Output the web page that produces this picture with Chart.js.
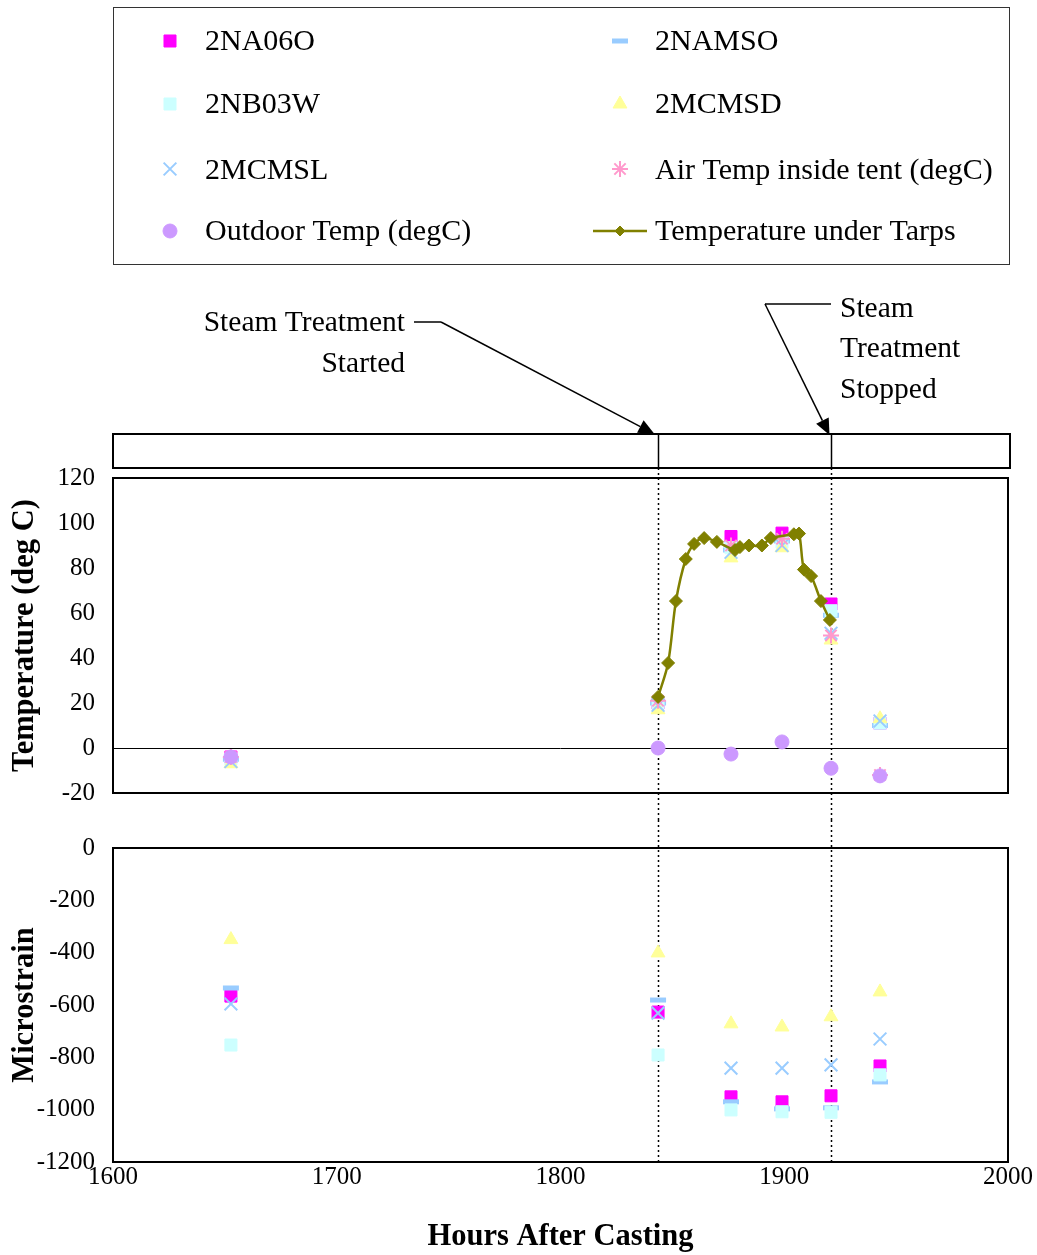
<!DOCTYPE html>
<html lang="en">
  <head>
    <meta charset="UTF-8" />
    <title>Steam treatment - temperature and microstrain</title>
    <script src="https://cdn.jsdelivr.net/npm/chart.js"></script>
    <style>
      body { margin: 0; background: #fff; }
      #wrap { position: relative; width: 1037px; height: 1255px; }
      canvas { position: absolute; left: 0; }
      #tempChart { top: 0; }
      #strainChart { top: 820px; }
    </style>
  </head>
  <body>
    <div id="wrap">
      <canvas id="tempChart" width="1037" height="820"></canvas>
      <canvas id="strainChart" width="1037" height="435"></canvas>
    </div>

    <script>
      // readings (hours after casting)
      const hours = [1652.7, 1843.6, 1876.2, 1899.0, 1920.9, 1942.8];

      const seriesNames = [
        "2NA06O", "2NAMSO", "2NB03W", "2MCMSD", "2MCMSL",
        "Air Temp inside tent (degC)", "Outdoor Temp (degC)", "Temperature under Tarps"
      ];

      // temperatures (deg C)
      const temp2NA06O = [-4, 20, 94, 95.5, 64, 11];
      const temp2NAMSO = [-5, 20, 88, 92, 59, 10];
      const temp2NB03W = [-5, 20, 89, 91.5, 61, 11];
      const temp2MCMSD = [-7, 17, 84.5, 89, 48, 13];
      const temp2MCMSL = [-6, 19, 87, 90, 51, 12];
      const airTemp = [-4, 21, 90, 93, 50, -12];
      const outdoorTemp = [-4, 0, -2.7, 2.7, -9, -12.4];

      const tarpHours = [1843.6, 1848.1, 1851.6, 1856.0, 1859.7, 1864.2, 1869.9, 1878.0, 1880.2,
        1884.2, 1890.0, 1894.0, 1904.3, 1906.6, 1908.8, 1912.0, 1916.4, 1920.4];
      const tarpTemp = [22.7, 37.8, 65.3, 84.0, 90.7, 93.3, 91.6, 88.0, 89.3,
        90.0, 90.0, 93.3, 95.0, 95.3, 79.3, 76.4, 65.3, 56.9];

      // microstrain
      const strain2NA06O = [-566, -627, -951, -970, -947, -833];
      const strain2NAMSO = [-535, -581, -970, -997, -993, -894];
      const strain2NB03W = [-753, -791, -1001, -1008, -1010, -867];
      const strain2MCMSD = [-350, -401, -672, -684, -645, -550];
      const strain2MCMSL = [-596, -631, -841, -841, -829, -730];

      const steamStart = 1843.6;
      const steamStop = 1920.9;

      const xTicks = [1600, 1700, 1800, 1900, 2000];

      const serif = "'Liberation Serif', 'Times New Roman', serif";
      Chart.defaults.font.family = serif;
      Chart.defaults.color = "#000";

      const markers = [
        { style: "rect", color: "#FF00FF", radius: 8.5, bw: 1 },
        { style: "line", color: "#99CCFF", radius: 8, bw: 5 },
        { style: "rect", color: "#CCFFFF", radius: 8.5, bw: 1 },
        { style: "triangle", color: "#FFFF99", radius: 8, bw: 1 },
        { style: "crossRot", color: "#99CCFF", radius: 9, bw: 2 },
        { style: "star", color: "#FF99CC", radius: 8, bw: 2 },
        { style: "circle", color: "#CC99FF", radius: 7, bw: 1 },
        { style: "rectRot", color: "#808000", radius: 6.5, bw: 1 },
      ];

      function toPoints(xs, ys) {
        return ys.map((y, i) => ({ x: xs[i], y: y }));
      }

      function scatterSet(i, values) {
        const m = markers[i];
        return {
          label: seriesNames[i],
          data: toPoints(hours, values),
          showLine: false,
          pointStyle: m.style,
          pointRadius: m.radius,
          pointBackgroundColor: m.color,
          pointBorderColor: m.color,
          pointBorderWidth: m.bw,
          order: 20 - i,
        };
      }

      const plainNumber = (v) => String(v);

      function yScale(min, max, step, title) {
        return {
          min: min,
          max: max,
          ticks: { stepSize: step, padding: 2, font: { size: 25 }, color: "#000", callback: plainNumber },
          grid: {
            drawTicks: true,
            tickLength: 16,
            tickColor: "rgba(0,0,0,0)",
            color: (c) => (c.tick && c.tick.value === 0 ? "#000" : "rgba(0,0,0,0)"),
            lineWidth: 1,
          },
          border: { display: false },
          title: {
            display: true,
            text: title,
            font: { size: 30.5, weight: "bold", lineHeight: 1.2 },
            color: "#000",
            padding: { top: 7, bottom: 0 },
          },
          afterFit: (s) => { s.width = 113; },
        };
      }

      function drawMarker(ctx, m, x, y, r) {
        ctx.save();
        ctx.fillStyle = m.color;
        ctx.strokeStyle = m.color;
        ctx.lineWidth = m.bw;
        if (Chart.helpers && Chart.helpers.drawPoint) {
          Chart.helpers.drawPoint(ctx, { pointStyle: m.style, radius: r || m.radius, rotation: 0, borderWidth: m.bw }, x, y);
        } else {
          ctx.fillRect(x - 6, y - 6, 12, 12);
        }
        ctx.restore();
      }

      // plot frame + dotted steam lines
      const framePlugin = {
        id: "frame",
        beforeDatasetsDraw(chart, args, opts) {
          const { ctx, chartArea: a } = chart;
          const xs = chart.scales.x;
          ctx.save();
          ctx.strokeStyle = "#000";
          ctx.lineWidth = 1.5;
          ctx.setLineDash([2, 3]);
          [steamStart, steamStop].forEach((h) => {
            const px = Math.round(xs.getPixelForValue(h)) + 0.5;
            ctx.beginPath();
            ctx.moveTo(px, opts.lineTop);
            ctx.lineTo(px, opts.lineBottom === "area" ? a.bottom : chart.height);
            ctx.stroke();
          });
          ctx.setLineDash([]);
          ctx.lineWidth = 2;
          ctx.strokeRect(a.left, a.top, a.right - a.left, a.bottom - a.top);
          ctx.restore();
        },
      };

      function arrowTo(ctx, x1, y1, x2, y2) {
        const ang = Math.atan2(y2 - y1, x2 - x1);
        const len = 16, half = 7;
        const bx = x2 - Math.cos(ang) * len, by = y2 - Math.sin(ang) * len;
        ctx.beginPath();
        ctx.moveTo(x1, y1);
        ctx.lineTo(bx, by);
        ctx.stroke();
        ctx.beginPath();
        ctx.moveTo(x2, y2);
        ctx.lineTo(bx + Math.sin(ang) * half, by - Math.cos(ang) * half);
        ctx.lineTo(bx - Math.sin(ang) * half, by + Math.cos(ang) * half);
        ctx.closePath();
        ctx.fill();
      }

      // legend box, marker strip and steam annotations
      const extrasPlugin = {
        id: "extras",
        afterDraw(chart) {
          const { ctx, chartArea: a } = chart;
          const xs = chart.scales.x;
          const pStart = Math.round(xs.getPixelForValue(steamStart)) + 0.5;
          const pStop = Math.round(xs.getPixelForValue(steamStop)) + 0.5;
          ctx.save();

          // legend
          ctx.strokeStyle = "#333";
          ctx.lineWidth = 1;
          ctx.strokeRect(113.5, 7.5, 896, 257);
          const rowsBase = [50, 113, 179, 240];
          const rowsMid = [41, 104, 169, 231];
          ctx.font = "30px " + serif;
          ctx.fillStyle = "#000";
          ctx.textBaseline = "alphabetic";
          ctx.textAlign = "left";
          seriesNames.forEach((name, i) => {
            const col = i % 2, row = Math.floor(i / 2);
            const mx = col ? 620 : 170;
            const tx = col ? 655 : 205;
            const m = markers[i];
            if (m.style === "rectRot") {
              ctx.save();
              ctx.strokeStyle = m.color;
              ctx.lineWidth = 2.5;
              ctx.beginPath();
              ctx.moveTo(593, rowsMid[row]);
              ctx.lineTo(647, rowsMid[row]);
              ctx.stroke();
              ctx.restore();
              drawMarker(ctx, m, mx, rowsMid[row], 5);
            } else {
              drawMarker(ctx, m, mx, rowsMid[row]);
            }
            ctx.fillStyle = "#000";
            ctx.fillText(name, tx, rowsBase[row]);
          });

          // event strip
          ctx.strokeStyle = "#000";
          ctx.lineWidth = 2;
          ctx.strokeRect(a.left, 434, a.right - a.left + 2, 34);
          ctx.lineWidth = 1.5;
          [pStart, pStop].forEach((px) => {
            ctx.beginPath();
            ctx.moveTo(px, 434);
            ctx.lineTo(px, 468);
            ctx.stroke();
          });

          // annotations
          ctx.font = "29.5px " + serif;
          ctx.fillStyle = "#000";
          ctx.textAlign = "right";
          ctx.fillText("Steam Treatment", 405, 331);
          ctx.fillText("Started", 405, 372);
          ctx.textAlign = "left";
          ctx.fillText("Steam", 840, 317);
          ctx.fillText("Treatment", 840, 357);
          ctx.fillText("Stopped", 840, 398);

          ctx.lineWidth = 1.5;
          ctx.beginPath();
          ctx.moveTo(414, 322);
          ctx.lineTo(441, 322);
          ctx.stroke();
          arrowTo(ctx, 441, 322, pStart - 4, 434);

          ctx.beginPath();
          ctx.moveTo(831, 304);
          ctx.lineTo(765, 304);
          ctx.stroke();
          arrowTo(ctx, 765, 304, pStop - 2, 435);
          ctx.restore();
        },
      };

      const xBase = { type: "linear", min: 1600, max: 2000 };

      const tempSets = [
        temp2NA06O, temp2NAMSO, temp2NB03W, temp2MCMSD, temp2MCMSL, airTemp, outdoorTemp,
      ].map((vals, i) => scatterSet(i, vals));
      tempSets.push({
        label: seriesNames[7],
        data: toPoints(tarpHours, tarpTemp),
        showLine: true,
        tension: 0.3,
        borderColor: "#808000",
        borderWidth: 2.5,
        pointStyle: "rectRot",
        pointRadius: 6.5,
        pointBackgroundColor: "#808000",
        pointBorderColor: "#808000",
        pointBorderWidth: 1,
        order: 0,
      });

      new Chart(document.getElementById("tempChart"), {
        type: "scatter",
        data: { datasets: tempSets },
        options: {
          responsive: false,
          animation: false,
          devicePixelRatio: 1,
          layout: { padding: { top: 478, right: 29, bottom: 27, left: 0 } },
          plugins: {
            legend: { display: false },
            tooltip: { enabled: false },
            frame: { lineTop: 468, lineBottom: "canvas" },
          },
          scales: {
            x: Object.assign({ display: false }, xBase),
            y: yScale(-20, 120, 20, "Temperature (deg C)"),
          },
        },
        plugins: [framePlugin, extrasPlugin],
      });

      const strainSets = [
        strain2NA06O, strain2NAMSO, strain2NB03W, strain2MCMSD, strain2MCMSL,
      ].map((vals, i) => scatterSet(i, vals));

      new Chart(document.getElementById("strainChart"), {
        type: "scatter",
        data: { datasets: strainSets },
        options: {
          responsive: false,
          animation: false,
          devicePixelRatio: 1,
          layout: { padding: { top: 28, right: 29, bottom: 0, left: 0 } },
          plugins: {
            legend: { display: false },
            tooltip: { enabled: false },
            frame: { lineTop: 0, lineBottom: "area" },
          },
          scales: {
            x: Object.assign({
              afterBuildTicks: (s) => { s.ticks = xTicks.map((v) => ({ value: v })); },
              ticks: { padding: 0, font: { size: 25 }, color: "#000", callback: plainNumber },
              grid: { display: false, drawTicks: false },
              border: { display: false },
              title: {
                display: true,
                text: "Hours After Casting",
                font: { size: 30.5, weight: "bold", lineHeight: 1.2 },
                color: "#000",
                padding: { top: 0, bottom: 0 },
              },
              afterFit: (s) => { s.height = 93; },
            }, xBase),
            y: yScale(-1200, 0, 200, "Microstrain"),
          },
        },
        plugins: [framePlugin],
      });
    </script>
  </body>
</html>
